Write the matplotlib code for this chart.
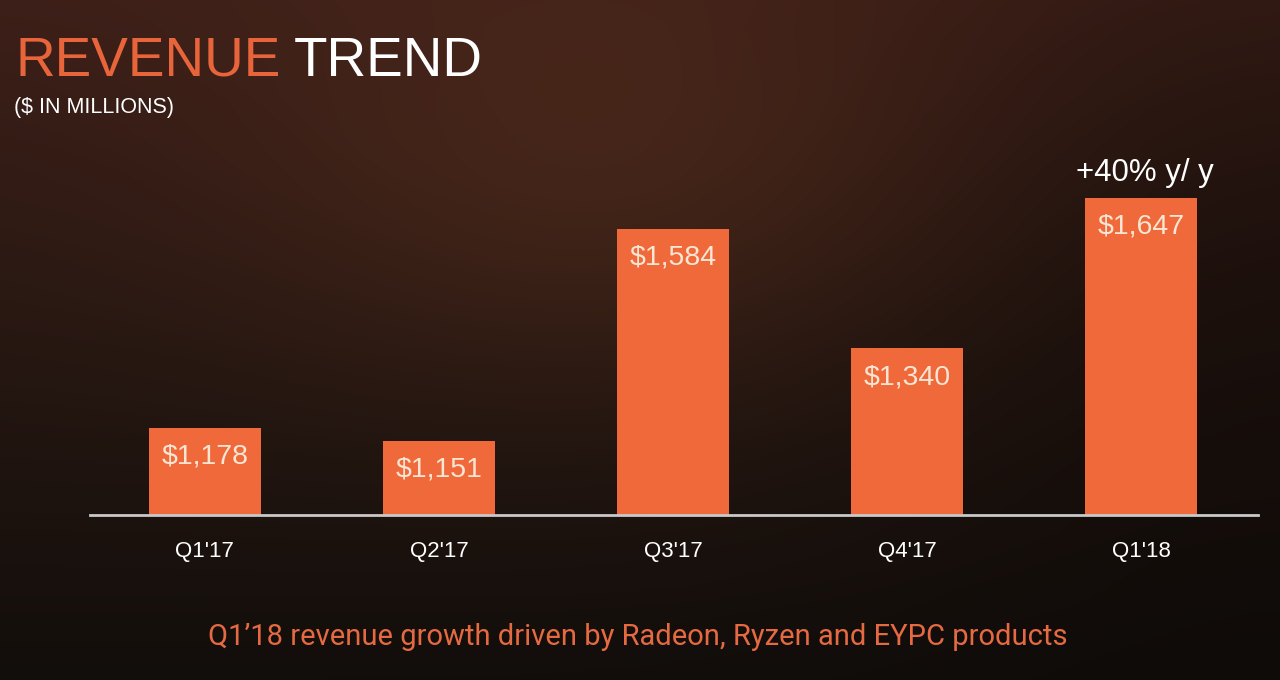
import numpy as np
import matplotlib
matplotlib.use("Agg")
import matplotlib.pyplot as plt

quarters = ["Q1'17", "Q2'17", "Q3'17", "Q4'17", "Q1'18"]
revenue = [1178, 1151, 1584, 1340, 1647]
bar_labels = ["$1,178", "$1,151", "$1,584", "$1,340", "$1,647"]
growth_note = "+40% y/ y"
title_a = "REVENUE"
title_b = "TREND"
subtitle = "($ IN MILLIONS)"
footer = "Q1\u201918 revenue growth driven by Radeon, Ryzen and EYPC products"

BAR = "#f0693a"
ORANGE = "#e8643a"
CREAM = "#f8e6d4"

fig = plt.figure(figsize=(12.8, 6.8), dpi=100)

# background gradient
bg = fig.add_axes([0, 0, 1, 1])
H, W = 340, 640
yy, xx = np.mgrid[0:H, 0:W]
t = yy / (H - 1)
top = np.array([0x3c, 0x1f, 0x18]) / 255
mid = np.array([0x24, 0x16, 0x11]) / 255
bot = np.array([0x12, 0x0e, 0x0b]) / 255
w1 = np.clip(t / 0.55, 0, 1)[..., None]
w2 = np.clip((t - 0.55) / 0.45, 0, 1)[..., None]
col = top * (1 - w1) + mid * w1
col = col * (1 - w2) + bot * w2
glow = np.exp(-(((xx - 320) / 200.0) ** 2 + ((yy - 90) / 110.0) ** 2))[..., None]
col = col + glow * np.array([0.085, 0.045, 0.02])
dark = np.exp(-(((xx - 640) / 230.0) ** 2 + ((yy - 170) / 220.0) ** 2))[..., None]
col = col * (1 - 0.35 * dark)
bg.imshow(np.clip(col, 0, 1), aspect="auto", extent=[0, 1, 0, 1], origin="upper")
bg.set_xlim(0, 1); bg.set_ylim(0, 1)
bg.axis("off")

# chart axes
ymin, ymax = 1000, 1800
px_per_unit = 0.4904
ax_h_px = (ymax - ymin) * px_per_unit
ax = fig.add_axes([90 / 1280, (680 - 515) / 680, 1168 / 1280, ax_h_px / 680])
ax.patch.set_alpha(0)
x = np.arange(len(quarters))
ax.bar(x, [v - ymin for v in revenue], bottom=ymin, width=0.479, color=BAR, zorder=2)
ax.set_xlim(-0.491, 4.5)
ax.set_ylim(ymin, ymax)
for s in ["top", "right", "left"]:
    ax.spines[s].set_visible(False)
ax.spines["bottom"].set_color("#c9c9c9")
ax.spines["bottom"].set_linewidth(2)
ax.spines["bottom"].set_zorder(3)
ax.set_yticks([])
ax.set_xticks(x)
ax.set_xticklabels(quarters, fontsize=16, color="white", family="Liberation Sans")
ax.tick_params(axis="x", length=0, pad=19)

for xi, v, lab in zip(x, revenue, bar_labels):
    ax.annotate(lab, (xi, v), xytext=(0, -29), textcoords="offset pixels",
                ha="center", va="center", fontsize=20.5, color=CREAM,
                family="Liberation Sans", zorder=4)
ax.annotate(growth_note, (x[-1], revenue[-1]), xytext=(4, 25), textcoords="offset pixels",
            ha="center", va="center", fontsize=22.5, color="white",
            family="Liberation Sans")

# titles
t1 = fig.text(16 / 1280, 1 - 62 / 680, title_a, fontsize=39.5, color=ORANGE,
              family="Liberation Sans", va="center", ha="left")
fig.canvas.draw()
bb = t1.get_window_extent()
fig.text((bb.x1 + 12) / 1280, 1 - 62 / 680, title_b, fontsize=39.5, color="white",
         family="Liberation Sans", va="center", ha="left")
fig.text(14 / 1280, 1 - 107 / 680, subtitle, fontsize=15.5, color="white",
         family="Liberation Sans", va="center", ha="left")

fig.text(638 / 1280, 1 - 637 / 680, footer, fontsize=21, color="#e56a42",
         family="Roboto", weight="normal", va="center", ha="center")

fig.savefig("out.png", dpi=100)
